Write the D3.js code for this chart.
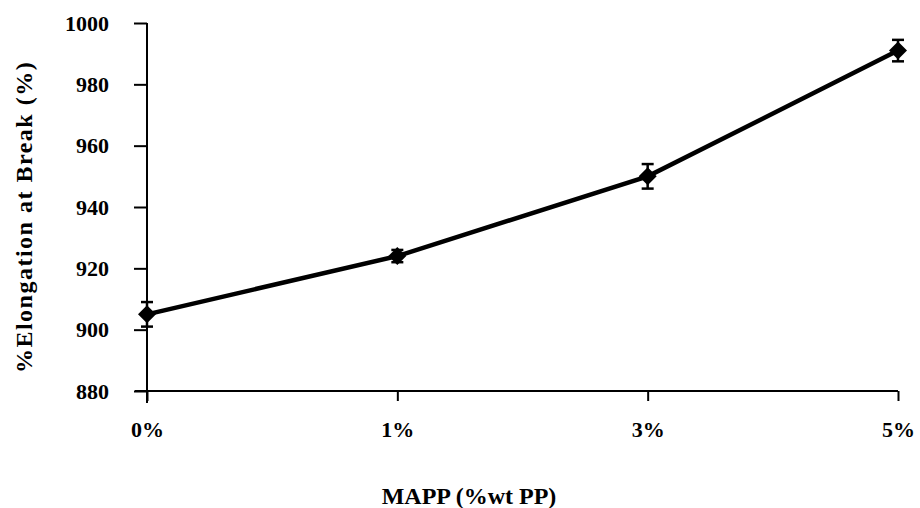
<!DOCTYPE html>
<html>
<head>
<meta charset="utf-8">
<script src="https://cdn.jsdelivr.net/npm/d3@7"></script>
<style>
  body { margin: 0; background: #fff; }
  text { font-family: "Liberation Serif", "DejaVu Serif", serif; font-weight: bold; fill: #000; }
</style>
</head>
<body>
<div id="chart"></div>
<script>
  // data
  var categories = ["0%", "1%", "3%", "5%"];
  var elongation = [905, 924, 950, 991];
  var errors = [4, 2, 4, 3.5];
  var yTicks = [880, 900, 920, 940, 960, 980, 1000];

  var width = 920;
  var height = 508;

  var svg = d3.select('#chart')
    .append('svg')
    .attr('width', width)
    .attr('height', height);

  // scales
  var x = d3.scalePoint().domain(categories).range([147, 898]);
  var y = d3.scaleLinear().domain([880, 1000]).range([391, 23]);

  // y axis
  var yAxis = svg.append('g')
    .attr('transform', 'translate(147,0)')
    .call(d3.axisLeft(y).tickValues(yTicks).tickSize(13).tickPadding(25).tickFormat(d3.format('d')));
  yAxis.select('.domain').attr('d', 'M0,' + y(1000) + 'V' + (y(880) + 12)).attr('stroke-width', 2);
  yAxis.selectAll('.tick line').attr('stroke-width', 2);
  yAxis.selectAll('.tick text').style('font-size', '22px');

  // x axis
  var xAxis = svg.append('g')
    .attr('transform', 'translate(0,' + y(880) + ')')
    .call(d3.axisBottom(x).tickSize(10).tickPadding(20));
  xAxis.select('.domain').attr('d', 'M' + (x('0%') - 12) + ',0H' + x('5%')).attr('stroke-width', 2);
  xAxis.selectAll('.tick line').attr('stroke-width', 2);
  xAxis.selectAll('.tick text').style('font-size', '22px');

  // line
  var line = d3.line()
    .x(function(d, i) { return x(categories[i]); })
    .y(function(d) { return y(d); });

  svg.append('path')
    .datum(elongation)
    .attr('d', line)
    .attr('fill', 'none')
    .attr('stroke', '#000')
    .attr('stroke-width', 4.5);

  // error bars
  var eb = svg.selectAll('.err')
    .data(elongation)
    .enter()
    .append('g')
    .attr('class', 'err');

  eb.append('line')
    .attr('x1', function(d, i) { return x(categories[i]); })
    .attr('x2', function(d, i) { return x(categories[i]); })
    .attr('y1', function(d, i) { return y(d + errors[i]); })
    .attr('y2', function(d, i) { return y(d - errors[i]); })
    .attr('stroke', '#000')
    .attr('stroke-width', 2.5);

  [1, -1].forEach(function(s) {
    eb.append('line')
      .attr('x1', function(d, i) { return x(categories[i]) - 6; })
      .attr('x2', function(d, i) { return x(categories[i]) + 6; })
      .attr('y1', function(d, i) { return y(d + s * errors[i]); })
      .attr('y2', function(d, i) { return y(d + s * errors[i]); })
      .attr('stroke', '#000')
      .attr('stroke-width', 2.5);
  });

  // diamond markers
  svg.selectAll('.marker')
    .data(elongation)
    .enter()
    .append('path')
    .attr('class', 'marker')
    .attr('transform', function(d, i) { return 'translate(' + x(categories[i]) + ',' + y(d) + ')'; })
    .attr('d', 'M0,-9L9,0L0,9L-9,0Z')
    .attr('fill', '#000');

  // axis titles
  svg.append('text')
    .attr('x', 469)
    .attr('y', 504)
    .attr('text-anchor', 'middle')
    .style('font-size', '24px')
    .text('MAPP (%wt PP)');

  svg.append('text')
    .attr('transform', 'translate(32,217) rotate(-90)')
    .attr('text-anchor', 'middle')
    .style('font-size', '24px')
    .style('letter-spacing', '1.5px')
    .text('%Elongation at Break (%)');
</script>
</body>
</html>
